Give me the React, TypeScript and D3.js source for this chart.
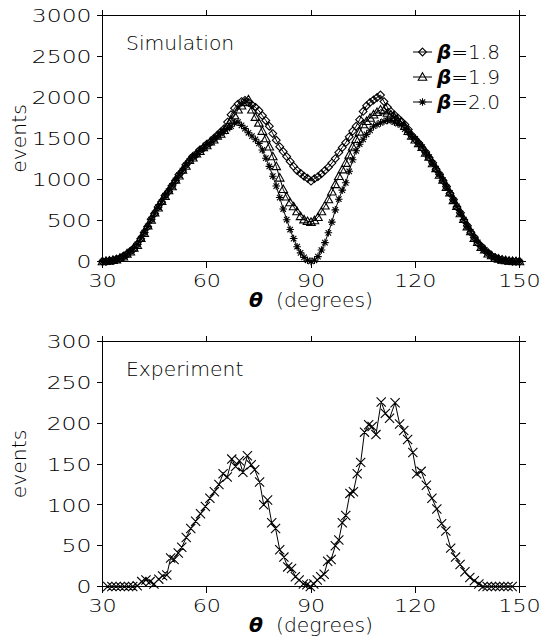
import React from 'react';
import * as d3 from 'd3';

// ---------------- DATA ----------------
const simTheta: number[] = d3.range(30, 151); // degrees, 1 deg bins

const beta18: number[] = [
  0, 2, 10, 14, 28, 38, 64, 86, 125, 155, 210, 276, 355, 425, 515, 585, 665, 725, 805, 855, 925, 985, 1060, 1105, 1180, 1225, 1280, 1305, 1360, 1380, 1430, 1450, 1500, 1540, 1580, 1620,
  1700, 1790, 1870, 1920, 1950, 1965, 1940, 1910, 1880, 1840, 1780, 1720, 1650, 1560, 1480, 1400, 1340, 1280, 1220, 1160, 1110, 1075, 1040, 1015, 980, 1010, 1035, 1070, 1110, 1150, 1200, 1255, 1330, 1390, 1450, 1520, 1590, 1650, 1730, 1830, 1900, 1940, 1970, 2000, 2030, 1950, 1880, 1830, 1790, 1750,
  1710, 1670, 1610, 1540, 1490, 1445, 1385, 1335, 1265, 1205, 1125, 1065, 985, 915, 830, 755, 665, 595, 505, 435, 355, 295, 225, 185, 135, 105, 65, 48, 28, 22, 10, 7, 2, 1, 0,
];

const beta19: number[] = [
  0, 4, 7, 16, 22, 42, 58, 92, 118, 165, 200, 285, 345, 435, 505, 595, 655, 735, 795, 865, 915, 995, 1045, 1115, 1165, 1235, 1265, 1315, 1345, 1390, 1415, 1460, 1485, 1530, 1555, 1600,
  1650, 1720, 1780, 1850, 1900, 1940, 1975, 1850, 1760, 1690, 1590, 1500, 1400, 1280, 1160, 1020, 880, 790, 720, 670, 610, 550, 510, 490, 480, 500, 540, 610, 680, 755, 850, 940, 1040, 1120, 1200, 1300, 1400, 1490, 1580, 1670, 1710, 1750, 1790, 1820, 1850, 1840, 1810, 1790, 1760, 1720,
  1700, 1650, 1590, 1530, 1485, 1440, 1395, 1325, 1275, 1195, 1135, 1055, 995, 905, 840, 745, 675, 585, 515, 425, 365, 285, 235, 175, 145, 95, 72, 42, 32, 18, 13, 5, 3, 0, 0,
];

const beta20: number[] = [
  0, 2, 9, 14, 26, 38, 62, 88, 122, 158, 208, 278, 352, 428, 512, 588, 662, 728, 802, 858, 922, 988, 1052, 1108, 1172, 1228, 1272, 1308, 1352, 1382, 1422, 1452, 1492, 1522, 1562, 1588,
  1620, 1650, 1690, 1700, 1660, 1620, 1570, 1530, 1490, 1440, 1360, 1260, 1160, 1040, 920, 780, 640, 510, 390, 280, 180, 105, 50, 15, 0, 15, 60, 140, 230, 350, 480, 630, 760, 870, 960, 1100, 1240, 1350, 1430, 1490, 1550, 1600, 1650, 1670, 1690, 1710, 1720, 1720, 1700, 1680,
  1665, 1615, 1575, 1525, 1495, 1435, 1395, 1325, 1272, 1198, 1132, 1058, 992, 908, 838, 748, 672, 588, 512, 428, 362, 288, 232, 178, 142, 98, 68, 46, 28, 20, 12, 6, 3, 1, 0,
];

const expTheta: number[] = [
  31.5, 32.7, 33.9, 35.1, 36.3, 37.5, 38.7, 40.0, 41.3, 42.5, 43.7, 44.8, 46.2, 47.3, 48.5, 49.6, 50.6, 51.8, 52.8, 54.1,
  55.4, 56.8, 58.2, 59.6, 60.9, 62.2, 63.5, 64.7, 65.9, 67.2, 68.3, 69.4, 70.4, 71.7, 72.8, 73.8, 75.2, 76.4, 77.5, 78.7,
  79.8, 81.0, 82.2, 83.3, 84.4, 85.5, 86.6, 87.8, 88.8, 89.8, 90.8, 91.8, 92.8, 93.8, 94.8, 95.8, 97.0, 98.0, 99.0, 100.0,
  101.2, 102.2, 103.3, 104.3, 105.4, 106.6, 107.6, 108.7, 110.2, 111.4, 112.6, 114.2, 115.5, 116.7, 117.8, 119.3, 120.4, 121.7, 123.2, 124.8,
  126.2, 127.6, 128.8, 130.2, 131.6, 132.9, 134.3, 135.7, 137.0, 138.3, 139.5, 140.7, 141.9, 143.1, 144.3, 145.5, 146.7, 147.9,
];
const expEvents: number[] = [
  0, 0, 0, 0, 0, 0, 0, 1, 6, 8, 6, 3, 9, 13, 14, 35, 33, 41, 48, 60,
  71, 80, 89, 98, 108, 116, 125, 138, 134, 156, 147, 154, 140, 160, 149, 143, 128, 100, 106, 78,
  71, 45, 36, 24, 22, 12, 8, 3, 2, 0, 3, 8, 12, 15, 31, 33, 50, 57, 78, 87,
  114, 116, 138, 152, 189, 198, 196, 186, 226, 212, 206, 225, 199, 191, 180, 164, 138, 141, 124, 108,
  95, 77, 68, 47, 36, 27, 18, 11, 7, 3, 0, 0, 0, 0, 0, 0, 0, 0,
];

const xTicks: number[] = [30, 60, 90, 120, 150];
const simYTicks: number[] = [0, 500, 1000, 1500, 2000, 2500, 3000];
const expYTicks: number[] = [0, 50, 100, 150, 200, 250, 300];
const legendLabels: string[] = ['1.8', '1.9', '2.0'];

// ---------------- LAYOUT ----------------
const W = 545;
const H = 636;
const X0 = 102.5;
const X1 = 519.5;
const FONT = "'DejaVu Sans', Verdana, sans-serif";
const WEIGHT = 200;
const TXT = '#000';
const TICK = 6;

const x = d3.scaleLinear().domain([30, 150]).range([X0, X1]);
const ySim = d3.scaleLinear().domain([0, 3000]).range([261.5, 15.5]);
const yExp = d3.scaleLinear().domain([0, 300]).range([586.5, 341.5]);

type MarkerKind = 'diamond' | 'triangle' | 'asterisk' | 'cross';

function markerPath(kind: MarkerKind, cx: number, cy: number): string {
  if (kind === 'diamond') {
    const r = 3.9;
    return `M${cx},${cy - r}L${cx + r},${cy}L${cx},${cy + r}L${cx - r},${cy}Z`;
  }
  if (kind === 'triangle') {
    const r = 4.3;
    return `M${cx},${cy - r}L${cx + r},${cy + r * 0.75}L${cx - r},${cy + r * 0.75}Z`;
  }
  if (kind === 'asterisk') {
    const r = 3.8;
    const d = r * 0.72;
    return `M${cx - r},${cy}L${cx + r},${cy}M${cx},${cy - r}L${cx},${cy + r}M${cx - d},${cy - d}L${cx + d},${cy + d}M${cx - d},${cy + d}L${cx + d},${cy - d}`;
  }
  const r = 4.6;
  return `M${cx - r},${cy - r}L${cx + r},${cy + r}M${cx - r},${cy + r}L${cx + r},${cy - r}`;
}

function Series({ xs, ys, yScale, kind }: { xs: number[]; ys: number[]; yScale: d3.ScaleLinear<number, number>; kind: MarkerKind }) {
  const pts: [number, number][] = xs.map((t, i) => [t, ys[i]]);
  const line = d3.line<[number, number]>().x((d) => x(d[0])).y((d) => yScale(d[1]));
  const marks = pts.map((d) => markerPath(kind, x(d[0]), yScale(d[1]))).join('');
  return (
    <g>
      <path d={line(pts) || ''} fill="none" stroke="#000" strokeWidth={1} />
      <path d={marks} fill="none" stroke="#000" strokeWidth={1.1} />
    </g>
  );
}

function Frame({ yScale, yTicks, yTop, yBot }: { yScale: d3.ScaleLinear<number, number>; yTicks: number[]; yTop: number; yBot: number }) {
  return (
    <g>
      <g stroke="#000" strokeWidth={1} shapeRendering="crispEdges">
        <line x1={X0} x2={X1} y1={yTop} y2={yTop} />
        <line x1={X0} x2={X1} y1={yBot} y2={yBot} />
        <line x1={X0} x2={X0} y1={yTop} y2={yBot} />
        <line x1={X1} x2={X1} y1={yTop} y2={yBot} />
        {xTicks.map((t) => (
          <g key={'xt' + t}>
            <line x1={x(t)} x2={x(t)} y1={yBot} y2={yBot + TICK} />
            <line x1={x(t)} x2={x(t)} y1={yTop} y2={yTop - TICK} />
          </g>
        ))}
        {yTicks.map((t) => (
          <g key={'yt' + t}>
            <line x1={X0 - TICK} x2={X0} y1={yScale(t)} y2={yScale(t)} />
            <line x1={X1} x2={X1 + TICK} y1={yScale(t)} y2={yScale(t)} />
          </g>
        ))}
      </g>
      <g fontFamily={FONT} fontWeight={WEIGHT} fontSize={18.5} fill={TXT}>
        {xTicks.map((t) => (
          <text key={'xl' + t} transform={`translate(${x(t)},${yBot + 25}) scale(1.2,1)`} textAnchor="middle">
            {t}
          </text>
        ))}
        {yTicks.map((t) => (
          <text key={'yl' + t} transform={`translate(${X0 - 11},${yScale(t) + 6.8}) scale(1.27,1)`} textAnchor="end">
            {t}
          </text>
        ))}
        <text transform={`translate(26,${(yTop + yBot) / 2}) rotate(-90) scale(1.07,1)`} textAnchor="middle" fontSize={19}>
          events
        </text>
        <text transform={`translate(${(X0 + X1) / 2},${yBot + 45}) scale(1.07,1)`} textAnchor="middle" xmlSpace="preserve" fontSize={19}>
          <tspan fontWeight="bold" fontStyle="italic">θ</tspan>
          <tspan>{'  (degrees)'}</tspan>
        </text>
      </g>
    </g>
  );
}

export default function App() {
  const simSeries: { ys: number[]; kind: MarkerKind }[] = [
    { ys: beta18, kind: 'diamond' },
    { ys: beta19, kind: 'triangle' },
    { ys: beta20, kind: 'asterisk' },
  ];
  return (
    <svg width={W} height={H} viewBox={`0 0 ${W} ${H}`} style={{ position: 'absolute', left: 0, top: 0, background: '#fff' }}>
      <rect width={W} height={H} fill="#fff" />
      {/* Simulation panel */}
      <Frame yScale={ySim} yTicks={simYTicks} yTop={15.5} yBot={261.5} />
      {simSeries.map((s, i) => (
        <Series key={i} xs={simTheta} ys={s.ys} yScale={ySim} kind={s.kind} />
      ))}
      <text transform="translate(126,50) scale(1.07,1)" fontFamily={FONT} fontWeight={WEIGHT} fontSize={19} fill={TXT}>
        Simulation
      </text>
      {legendLabels.map((lab, i) => {
        const ly = 52 + i * 25;
        return (
          <g key={lab}>
            <line x1={413} x2={432} y1={ly} y2={ly} stroke="#000" strokeWidth={1} />
            <path d={markerPath(simSeries[i].kind, 422.5, ly)} fill="none" stroke="#000" strokeWidth={1.1} />
            <text x={437} y={ly + 7.2} fontFamily={FONT} fontWeight={WEIGHT} fontSize={20} fill={TXT}>
              <tspan fontWeight="bold" fontStyle="italic">β</tspan>
              <tspan>{'=' + lab}</tspan>
            </text>
          </g>
        );
      })}
      {/* Experiment panel */}
      <Frame yScale={yExp} yTicks={expYTicks} yTop={341.5} yBot={586.5} />
      <Series xs={expTheta} ys={expEvents} yScale={yExp} kind="cross" />
      <text transform="translate(126,376) scale(1.07,1)" fontFamily={FONT} fontWeight={WEIGHT} fontSize={19} fill={TXT}>
        Experiment
      </text>
    </svg>
  );
}
